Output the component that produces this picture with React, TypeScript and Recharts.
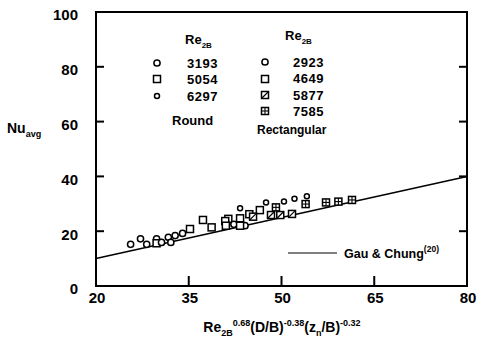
import { ScatterChart, Scatter, XAxis, YAxis, ReferenceArea } from "recharts";

// Round nozzle data (x = correlation group, y = Nu_avg)
const round3193X = [25.6, 27.2, 28.2, 29.8, 31.7, 32.8, 34.0];
const round3193Y = [15.2, 17.2, 15.2, 17.2, 17.8, 18.4, 19.2];
const round5054X = [29.8, 35.2, 37.3, 41.4, 43.3, 44.8, 46.5];
const round5054Y = [15.6, 20.8, 24.1, 24.5, 24.7, 26.2, 27.7];
const round6297X = [43.3, 47.5, 50.4, 52.1, 54.1];
const round6297Y = [28.4, 30.5, 30.8, 31.8, 32.8];

// Rectangular nozzle data
const rect2923X = [30.6, 32.1, 42.3, 44.1];
const rect2923Y = [15.9, 15.9, 22.5, 22.0];
const rect4649X = [38.7, 40.9, 41.0, 43.3];
const rect4649Y = [21.4, 23.7, 22.0, 22.0];
const rect5877X = [45.4, 48.3, 49.8, 51.7];
const rect5877Y = [25.3, 25.9, 25.9, 26.3];
const rect7585X = [49.1, 53.9, 57.2, 59.2, 61.4];
const rect7585Y = [28.7, 29.9, 30.5, 30.8, 31.4];

// Gau & Chung correlation line
const gauX = [20, 80];
const gauY = [10, 40];

const xTicks = [20, 35, 50, 65, 80];
const yTicks = [0, 20, 40, 60, 80, 100];
// inward tick marks on the frame
const xInnerTicks = [35, 50, 65];
const yInnerTicks = [20, 40, 60, 80];

const toPts = (xs: number[], ys: number[]) => xs.map((x, i) => ({ x, y: ys[i] }));

const FONT = "'Liberation Sans', Arial, Helvetica, sans-serif";
const WEIGHT = "bold";

// plot box (matches chart margins / axis sizes below)
const W = 480;
const H = 341;
const LEFT = 96;
const RIGHT = W - 13;
const TOP = 12;
const BOTTOM = H - 55;
const px = (v: number) => LEFT + ((v - 20) / 60) * (RIGHT - LEFT);
const py = (v: number) => BOTTOM - (v / 100) * (BOTTOM - TOP);

const circle = (r: number) => (p: any) => (
  <circle cx={p.cx} cy={p.cy} r={r} fill="#fff" stroke="#000" strokeWidth={1.5} />
);

const square = (kind: "plain" | "slash" | "plus") => (p: any) => {
  const s = 3.5;
  return (
    <g>
      <rect x={p.cx - s} y={p.cy - s} width={s * 2} height={s * 2} fill="#fff" stroke="#000" strokeWidth={1.5} />
      {kind === "slash" && (
        <line x1={p.cx - s} y1={p.cy + s} x2={p.cx + s} y2={p.cy - s} stroke="#000" strokeWidth={1.2} />
      )}
      {kind === "plus" && (
        <g stroke="#000" strokeWidth={1.1}>
          <line x1={p.cx - s} y1={p.cy} x2={p.cx + s} y2={p.cy} />
          <line x1={p.cx} y1={p.cy - s} x2={p.cx} y2={p.cy + s} />
        </g>
      )}
    </g>
  );
};

const roundCircle = circle(3.1);
const smallCircle = circle(2.5);
const plainSquare = square("plain");
const slashSquare = square("slash");
const plusSquare = square("plus");

const noShape = () => <g />;

const axisStroke = { stroke: "#000", strokeWidth: 2 };

const BottomTick = (p: any) => (
  <text x={p.x + 1} y={p.y} dy="0.71em" textAnchor="middle" fontSize={15} fontWeight={WEIGHT} fontFamily={FONT}>
    {p.payload.value}
  </text>
);

const LeftTick = (p: any) => (
  <text x={p.x} y={p.y + 3} dy="0.355em" textAnchor="end" fontSize={15} fontWeight={WEIGHT} fontFamily={FONT}>
    {p.payload.value}
  </text>
);

export default function App() {
  return (
    <div style={{ position: "relative", width: W, height: H, fontFamily: FONT }}>
      <style>{`body{margin:0}`}</style>

      <svg
        width={W}
        height={H}
        style={{ position: "absolute", left: 0, top: 0, zIndex: 0 }}
        fontFamily={FONT}
        fontWeight={WEIGHT}
      >
        {/* y axis title */}
        <text x={7} y={133} fontSize={14}>
          Nu<tspan fontSize={9} dy={4}>avg</tspan>
        </text>

        {/* x axis title */}
        <text x={282} y={332} fontSize={14} textAnchor="middle">
          Re<tspan fontSize={9} dy={4}>2B</tspan>
          <tspan fontSize={9} dy={-10}>0.68</tspan>
          <tspan dy={6}>(D/B)</tspan>
          <tspan fontSize={9} dy={-6}>-0.38</tspan>
          <tspan dy={6}>(z</tspan>
          <tspan fontSize={9} dy={4}>n</tspan>
          <tspan dy={-4}>/B)</tspan>
          <tspan fontSize={9} dy={-6}>-0.32</tspan>
        </text>

        {/* Round legend */}
        <text x={185} y={44} fontSize={13}>
          Re<tspan fontSize={8} dy={4}>2B</tspan>
        </text>
        {roundCircle({ cx: 157, cy: 63 })}
        {plainSquare({ cx: 157, cy: 79 })}
        {smallCircle({ cx: 157, cy: 96 })}
        <text x={187} y={68} fontSize={13} letterSpacing={0.5}>3193</text>
        <text x={187} y={84} fontSize={13} letterSpacing={0.5}>5054</text>
        <text x={187} y={101} fontSize={13} letterSpacing={0.5}>6297</text>
        <text x={172} y={125} fontSize={13}>Round</text>

        {/* Rectangular legend */}
        <text x={285} y={40} fontSize={13}>
          Re<tspan fontSize={8} dy={4}>2B</tspan>
        </text>
        {roundCircle({ cx: 265, cy: 62 })}
        {plainSquare({ cx: 265, cy: 79 })}
        {slashSquare({ cx: 265, cy: 95 })}
        {plusSquare({ cx: 265, cy: 111 })}
        <text x={293} y={67} fontSize={13} letterSpacing={0.5}>2923</text>
        <text x={293} y={83} fontSize={13} letterSpacing={0.5}>4649</text>
        <text x={293} y={100} fontSize={13} letterSpacing={0.5}>5877</text>
        <text x={293} y={116} fontSize={13} letterSpacing={0.5}>7585</text>
        <text x={257} y={134} fontSize={12}>Rectangular</text>

        {/* Gau & Chung legend */}
        <line x1={288} y1={253} x2={337} y2={253} stroke="#000" strokeWidth={1.2} />
        <text x={344} y={258} fontSize={12.5}>
          Gau &amp; Chung<tspan fontSize={8.5} dy={-6}>(20)</tspan>
        </text>
      </svg>

      <div style={{ position: "relative", zIndex: 1 }}>
        <ScatterChart width={W} height={H} margin={{ top: TOP, right: W - RIGHT, left: 0, bottom: 0 }}>
          <XAxis
            dataKey="x"
            type="number"
            domain={[20, 80]}
            ticks={xTicks}
            height={H - BOTTOM}
            axisLine={axisStroke}
            tickLine={false}
            tickSize={0}
            tickMargin={6}
            tick={<BottomTick />}
          />
          <YAxis
            dataKey="y"
            type="number"
            domain={[0, 100]}
            ticks={yTicks}
            width={LEFT}
            axisLine={axisStroke}
            tickLine={false}
            tickSize={0}
            tickMargin={18}
            tick={<LeftTick />}
          />
          <ReferenceArea x1={20} x2={80} y1={0} y2={100} fill="none" stroke="#000" strokeWidth={2} ifOverflow="visible" />
          <Scatter
            data={toPts(gauX, gauY)}
            line={{ stroke: "#000", strokeWidth: 1.5 }}
            shape={noShape}
            isAnimationActive={false}
          />
          <Scatter data={toPts(round3193X, round3193Y)} shape={roundCircle} isAnimationActive={false} />
          <Scatter data={toPts(round5054X, round5054Y)} shape={plainSquare} isAnimationActive={false} />
          <Scatter data={toPts(round6297X, round6297Y)} shape={smallCircle} isAnimationActive={false} />
          <Scatter data={toPts(rect2923X, rect2923Y)} shape={roundCircle} isAnimationActive={false} />
          <Scatter data={toPts(rect4649X, rect4649Y)} shape={plainSquare} isAnimationActive={false} />
          <Scatter data={toPts(rect5877X, rect5877Y)} shape={slashSquare} isAnimationActive={false} />
          <Scatter data={toPts(rect7585X, rect7585Y)} shape={plusSquare} isAnimationActive={false} />
        </ScatterChart>
      </div>

      {/* inward frame tick marks, on top of everything */}
      <svg
        width={W}
        height={H}
        style={{ position: "absolute", left: 0, top: 0, zIndex: 2, pointerEvents: "none" }}
      >
        <g stroke="#000" strokeWidth={2}>
          {xInnerTicks.map((v) => (
            <line key={"x" + v} x1={px(v)} x2={px(v)} y1={BOTTOM} y2={BOTTOM - 10} />
          ))}
          {yInnerTicks.map((v) => (
            <line key={"l" + v} x1={LEFT} x2={LEFT + 8} y1={py(v)} y2={py(v)} />
          ))}
          {yInnerTicks.map((v) => (
            <line key={"r" + v} x1={RIGHT} x2={RIGHT - 8} y1={py(v)} y2={py(v)} />
          ))}
        </g>
      </svg>
    </div>
  );
}
